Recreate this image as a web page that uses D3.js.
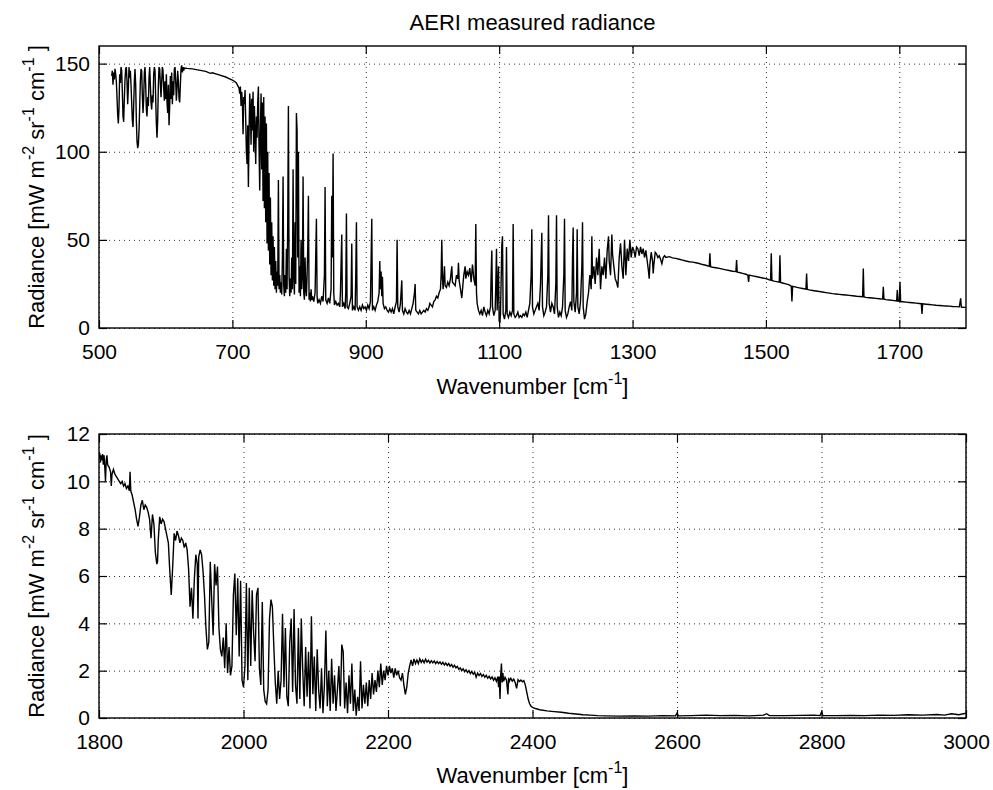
<!DOCTYPE html>
<html>
<head>
<meta charset="utf-8">
<script src="https://cdn.jsdelivr.net/npm/d3@7"></script>
<style>
  body { margin: 0; background: #fff; }
  text { font-family: "Liberation Sans", Arial, Helvetica, sans-serif; fill: #000; }
</style>
</head>
<body>
<div id="chart"></div>
<script>
// AERI spectrum, values: [wavenumber cm-1, radiance]
var upperSpectrum = [
  [519,143],[520,146],[521,138],[522,145],[523,141],[524,147],[525,144],[526,140],[527,131],[528,121],[529,116],[530,125],[531,144],[532,139],[533,148],[534,146],[535,134],[536,120],[537,117],[538,130],[539,141],[540,147],[541,148],[542,140],[543,127],[544,136],[545,148],[546,142],[547,146],[548,138],[549,128],[550,118],[551,114],[552,126],[553,140],[554,147],[555,138],[556,118],[557,106],[558,102],[559,104],[560,112],[561,125],[562,140],[563,147],[564,146],[565,132],[566,122],[567,130],[568,145],[569,148],[570,138],[571,124],[572,120],[573,131],[574,126],[575,142],[576,148],[577,138],[578,128],[579,124],[580,132],[581,128],[582,144],[583,148],[584,146],[585,130],[586,116],[587,108],[588,118],[589,138],[590,148],[591,147],[592,138],[593,131],[594,140],[595,148],[596,146],[597,136],[598,129],[599,140],[600,130],[601,144],[602,128],[603,122],[604,138],[605,115],[606,126],[607,143],[608,130],[609,145],[610,127],[611,140],[612,132],[613,147],[614,148],[615,140],[616,129],[617,136],[618,146],[619,140],[620,130],[621,128],[622,138],[623,147],[624,149],[625,145],[626,148],[627,146],[628,147.5],
  [632,147.3],[640,147],[650,146.3],[660,145.6],[667,144.5],[670,144.8],[680,143.6],[690,142.4],[695,141.5],[700,140.6],[703,140],[706,139],[708,137.5],[710,136],
  [711,133],[712,137],[713,126],[714,134],[715,128],[716,110],[717,131],[718,127],[719,135],[720,118],[721,100],[722,93],[723,115],[724,80],[725,110],[726,133],[727,125],[728,104],[729,130],[730,112],[731,134],[732,100],[733,126],[734,110],[735,93],[736,120],[737,108],[738,128],[739,137],[740,102],[741,78],[742,112],[743,133],[744,90],[745,128],[746,72],[747,131],[748,68],[749,120],[750,60],[751,116],[752,48],[753,100],[754,44],[755,88],[756,36],[757,74],[758,30],[759,60],[760,27],[761,52],[762,24],[763,46],[764,22],[765,38],[766,20],[767,32],[768,24],[769,84],[770,22],[771,30],[772,20],[773,26],[774,19],[775,40],[776,86],[777,24],[778,18],[779,30],[780,20],[781,45],[782,22],[783,60],[784,126],[785,30],[786,18],[787,28],[788,20],[789,40],[790,22],[791,90],[792,30],[793,19],[794,60],[795,25],[796,122],[797,112],[798,40],[799,100],[800,20],[801,35],[802,18],[803,50],[804,22],[805,30],[806,86],[807,20],[808,16],[809,40],[810,22],[811,18],[812,30],[813,45],[814,75],[815,16],[816,20],[817,15],[818,22],[819,16],[820,18],[822,15],[824,20],[826,62],[827,18],[828,14],[830,16],[832,14],[834,18],[836,15],[838,30],[839,80],[840,16],[842,14],[844,17],[846,14],[848,22],[849,75],[850,40],[851,99],[852,20],[853,13],[855,15],[857,13],[859,14],[861,12],[862,20],[864,53],[865,12],[867,14],[869,11],[870,20],[871,65],[872,12],[874,11],[876,14],[878,18],[879,48],[880,10],[882,12],[884,10],[885,30],[886,60],[887,12],[889,10],[891,12],[893,10],[895,13],[897,11],[899,12],[901,10],[903,13],[905,11],[907,15],[909,62],[910,10],
  [912,12],[914,10],[916,13],[918,15],[920,20],[921,38],[922,22],[923,32],[924,18],[925,29],[926,14],[928,11],[930,12],[932,10],[934,9],[936,11],[938,9],[940,11],[942,8],[944,12],[946,15],[947,50],[948,12],[950,9],[952,14],[954,27],[955,10],[957,8],[959,11],[961,9],[963,8],[965,10],[967,8],[969,11],[971,14],[973,20],[974,25],[975,10],[977,9],[979,8],[981,10],[983,8],[985,9],[987,10],[989,9],[991,11],[993,10],[995,12],[996,14],[998,13],[1000,12],[1002,15],[1004,16],[1006,18],[1008,17],[1010,20],[1012,22],[1013,30],[1014,50],[1015,28],[1016,22],[1018,35],[1019,24],[1021,23],[1023,26],[1025,24],[1027,28],[1029,35],[1030,26],[1032,25],[1034,24],[1036,30],[1038,28],[1039,37],[1040,27],[1042,22],[1044,17],[1046,26],[1047,30],[1049,35],[1050,28],[1052,32],[1054,30],[1056,34],[1058,26],[1060,36],[1062,28],[1064,24],[1065,59],[1066,20],[1067,14],[1069,10],[1071,8],[1073,10],[1075,7],[1077,12],[1079,9],[1081,7],[1083,10],[1085,8],[1087,12],[1088,30],[1089,44],[1090,12],[1092,7],[1094,10],[1095,25],[1096,45],[1097,10],[1099,35],[1100,4],[1101,3],[1102,8],[1104,47],[1105,52],[1106,8],[1108,5],[1110,10],[1111,46],[1112,8],[1114,6],[1116,9],[1118,7],[1120,10],[1121,59],[1122,8],[1124,6],[1126,7],[1128,9],[1130,6],[1132,7],[1134,6],[1136,8],[1138,7],[1140,9],[1142,6],[1144,10],[1146,14],[1148,30],[1149,56],[1150,12],[1152,8],[1154,10],[1156,12],[1158,14],[1160,10],[1162,25],[1164,54],[1165,12],[1167,7],[1169,9],[1171,12],[1173,30],[1174,64],[1175,14],[1177,9],[1179,14],[1181,12],[1183,8],[1185,25],[1186,64],[1187,12],[1189,6],[1191,9],[1193,7],[1195,12],[1197,30],[1198,62],[1199,10],[1201,6],[1203,8],[1205,12],[1207,15],[1209,10],[1210,40],[1211,57],[1212,15],[1214,9],[1216,20],[1217,56],[1218,12],[1220,8],[1222,15],[1224,35],[1225,60],[1226,12],[1228,5],[1230,8],[1232,15],[1234,20],[1236,30],[1238,22],[1239,52],[1240,28],[1242,35],[1244,25],[1246,40],[1248,30],[1250,45],[1252,22],[1254,35],[1256,30],[1258,40],[1260,28],[1262,44],[1264,52],[1265,38],[1267,30],[1269,53],[1270,42],[1272,35],[1274,28],[1276,26],[1278,23],[1280,40],[1282,48],[1284,35],[1286,28],[1288,50],[1290,30],[1292,45],[1294,38],[1296,50],[1298,40],[1300,46],
  [1302,44],[1304,40],[1306,46],[1308,45],[1310,41],[1312,46],[1314,42],[1316,45],[1318,40],[1320,44],[1322,38],[1324,32],[1325,28],[1326,36],[1328,43],[1330,38],[1331,31],[1332,36],[1334,43],[1336,42],[1338,40],[1340,41],[1342,39],[1344,36.5],[1346,40],[1348,41],[1350,40],[1355,40.5],[1360,39.8],[1365,39.5],[1370,39],[1375,38.5],[1380,38],[1385,37.6],[1390,37.4],[1395,37],[1400,36.6],[1405,36],[1410,35.6],[1415,35],[1416,42.4],[1417,34.8],[1420,34.5],[1425,34.2],[1430,33.8],[1435,33.4],[1440,33],[1445,32.6],[1450,32.2],[1455,32],[1456,38.5],[1457,31.7],[1460,31.5],[1465,31],[1470,30.5],[1473,30],[1474,26.2],[1475,30],[1480,29.6],[1485,29.2],[1490,28.8],[1495,28.4],[1500,28],[1505,27.4],[1507,27.2],[1508,42.4],[1509,27],[1512,26.6],[1516,26.3],[1520,26],[1521,41.3],[1522,25.8],[1526,25.4],[1530,25],[1535,24.5],[1538,23.8],[1539,15],[1540,23.6],[1545,23.2],[1550,22.8],[1555,22.4],[1560,22],[1561,30.9],[1562,21.9],[1565,21.6],[1570,21.3],[1575,21],[1580,20.7],[1585,20.4],[1590,20.1],[1595,19.8],[1600,19.5],[1605,19.3],[1610,19.1],[1615,18.9],[1620,18.7],[1625,18.5],[1630,18.3],[1636,18],[1645,17.7],[1646,33.8],[1647,17.6],[1650,17.4],[1655,17.2],[1660,17],[1665,16.8],[1670,16.6],[1675,16.4],[1676,23.4],[1677,16.3],[1680,16.1],[1685,15.9],[1690,15.7],[1696,15.4],[1697,21.5],[1698,15.3],[1700,15.2],[1701,26.2],[1702,15],[1705,14.9],[1710,14.7],[1715,14.5],[1720,14.3],[1725,14.1],[1730,13.9],[1733,13.8],[1734,8],[1735,13.7],[1740,13.5],[1745,13.3],[1750,13.1],[1755,12.9],[1760,12.8],[1765,12.6],[1770,12.5],[1775,12.4],[1780,12.2],[1785,12.1],[1790,12],[1792,16.8],[1793,11.9],[1796,11.8],[1800,11.7]
];

var lowerSpectrum = [
  [1800,11.0],[1801,11.2],[1802,10.8],[1803,11.1],[1804,10.9],[1805,11.15],[1806,10.7],[1807,11.1],[1808,10.6],[1809,10.0],[1810,10.9],[1811,11.1],[1812,10.7],[1814,10.6],[1816,10.4],[1817,9.8],[1818,10.3],[1820,10.5],[1822,10.3],[1824,10.2],[1826,10.1],[1828,10.0],[1830,9.9],[1832,10.0],[1834,9.8],[1836,9.9],[1838,9.7],[1840,9.8],[1842,9.6],[1843,10.4],[1844,9.6],[1846,9.4],[1848,9.1],[1850,8.8],[1852,8.4],[1854,8.1],[1856,8.5],[1858,9.0],[1860,9.2],[1862,8.8],[1864,9.0],[1866,8.9],[1868,8.7],[1870,8.4],[1872,7.6],[1874,8.6],[1876,8.2],[1878,7.0],[1880,6.5],[1881,6.6],[1882,7.5],[1884,8.5],[1886,8.2],[1888,8.4],[1890,8.3],[1892,8.0],[1894,7.7],[1896,7.4],[1898,6.2],[1900,5.2],[1902,6.4],[1904,7.8],[1906,7.5],[1908,7.9],[1910,7.7],[1912,7.4],[1914,7.6],[1916,7.5],[1918,7.2],[1920,7.4],[1922,7.1],[1924,6.3],[1926,4.7],[1928,5.5],[1930,4.2],[1932,5.9],[1934,6.9],[1936,6.5],[1937,4.2],[1938,6.8],[1940,7.1],[1942,6.9],[1944,6.2],[1946,5.2],[1948,3.8],[1950,2.9],[1952,3.2],[1954,6.6],[1956,5.0],[1958,3.5],[1960,6.5],[1962,5.6],[1964,6.4],[1966,3.8],[1968,2.9],[1970,2.6],[1972,3.4],[1974,2.1],[1976,4.0],[1978,1.9],[1980,3.0],[1982,1.8],[1984,2.2],[1986,5.2],[1988,6.1],[1990,3.5],[1992,5.9],[1994,2.6],[1996,5.8],[1998,1.6],[2000,1.3],[2002,2.2],[2004,5.7],[2006,1.6],[2008,5.5],[2010,2.2],[2012,5.4],[2014,3.6],[2016,2.4],[2018,5.2],[2020,5.5],[2022,2.1],[2024,1.4],[2026,4.9],[2028,1.2],[2030,0.7],[2032,0.6],[2034,1.2],[2036,4.2],[2038,5.0],[2040,4.7],[2042,3.0],[2044,1.5],[2046,0.6],[2048,2.0],[2050,0.8],[2052,1.6],[2054,4.4],[2056,1.3],[2058,3.8],[2060,0.9],[2062,0.5],[2064,3.2],[2066,4.2],[2068,1.1],[2070,4.6],[2072,1.4],[2074,0.6],[2076,3.8],[2078,0.8],[2080,4.2],[2082,2.0],[2084,0.5],[2086,3.0],[2088,0.9],[2090,2.8],[2092,0.4],[2094,4.3],[2096,1.0],[2098,2.6],[2100,0.3],[2102,2.9],[2104,1.2],[2106,0.4],[2108,2.1],[2110,0.2],[2112,1.4],[2114,3.7],[2116,0.5],[2118,2.0],[2120,0.3],[2122,2.5],[2124,0.6],[2126,1.8],[2128,0.3],[2130,1.2],[2132,2.2],[2134,0.5],[2136,3.1],[2138,2.8],[2140,0.4],[2142,1.5],[2144,0.2],[2146,1.8],[2148,0.6],[2150,2.3],[2152,0.3],[2154,1.2],[2156,0.1],[2158,0.9],[2160,0.3],[2162,2.4],[2164,0.4],[2166,1.4],[2168,0.6],[2170,1.5],[2172,0.5],[2174,1.6],[2176,0.8],[2178,1.9],[2180,1.0],[2182,1.6],[2184,1.1],[2186,2.0],[2188,1.3],[2190,2.3],[2192,1.4],[2194,2.0],[2196,1.6],[2198,2.2],[2200,1.8],[2202,2.2],[2204,1.9],[2206,2.1],[2208,1.7],[2210,2.1],[2212,1.8],[2214,2.0],[2216,1.7],[2218,1.6],[2220,1.9],[2222,1.4],[2224,1.0],[2226,1.3],[2228,1.9],
  [2230,2.2],[2232,2.45],[2234,2.2],[2236,2.5],[2238,2.3],[2240,2.45],[2242,2.3],[2244,2.5],[2246,2.35],[2248,2.45],[2250,2.33],[2252,2.48],[2254,2.36],[2256,2.44],[2258,2.32],[2260,2.42],[2262,2.33],[2264,2.41],[2266,2.3],[2268,2.39],[2270,2.3],[2272,2.37],[2274,2.27],[2276,2.35],[2278,2.24],[2280,2.32],[2282,2.22],[2284,2.3],[2286,2.19],[2288,2.26],[2290,2.15],[2292,2.23],[2294,2.12],[2296,2.18],[2298,2.06],[2300,2.12],[2302,2.0],[2304,2.08],[2306,1.96],[2308,2.04],[2310,1.92],[2312,2.0],[2314,1.88],[2316,1.97],[2318,1.85],[2320,1.93],[2322,1.72],[2324,1.9],[2326,1.8],[2328,1.88],[2330,1.76],[2332,1.84],[2334,1.72],[2336,1.8],[2338,1.68],[2340,1.76],[2342,1.65],[2344,1.74],[2346,1.6],[2348,1.7],[2350,1.55],[2352,1.75],[2353,1.3],[2354,1.75],[2355,0.8],[2356,1.8],[2357,2.3],[2358,1.5],[2359,1.9],[2360,1.55],[2362,1.72],[2364,1.6],[2366,1.0],[2367,1.7],[2368,1.55],[2370,1.68],[2372,1.56],[2374,1.64],[2376,1.5],[2378,1.25],[2380,1.62],[2382,1.54],[2384,1.6],[2386,1.53],[2388,1.58],[2390,1.4],
  [2392,1.1],[2394,0.8],[2396,0.6],[2398,0.5],[2400,0.45],[2404,0.4],[2410,0.35],[2420,0.3],[2430,0.27],[2440,0.24],[2450,0.2],[2460,0.17],[2470,0.14],[2480,0.12],[2490,0.1],[2500,0.09],[2520,0.08],[2540,0.09],[2560,0.08],[2580,0.1],[2598,0.09],[2600,0.2],[2602,0.09],[2620,0.1],[2640,0.12],[2660,0.1],[2680,0.11],[2700,0.09],[2720,0.12],[2724,0.18],[2728,0.1],[2750,0.1],[2770,0.11],[2790,0.12],[2798,0.1],[2800,0.25],[2802,0.1],[2820,0.1],[2840,0.11],[2860,0.1],[2880,0.12],[2900,0.11],[2920,0.14],[2940,0.12],[2960,0.15],[2970,0.12],[2980,0.18],[2990,0.14],[3000,0.2]
];

var upperXTicks = [500, 700, 900, 1100, 1300, 1500, 1700];
var upperYTicks = [0, 50, 100, 150];
var lowerXTicks = [1800, 2000, 2200, 2400, 2600, 2800, 3000];
var lowerYTicks = [0, 2, 4, 6, 8, 10, 12];

var svgWidth = 993;
var svgHeight = 790;
var plotLeft = 99;
var plotRight = 966;
var fontSize = 22;
var tickFont = 21;
var supSize = 16;

var svg = d3.select("#chart")
    .append("svg")
    .attr("width", svgWidth)
    .attr("height", svgHeight);

// one MATLAB style panel
function drawPanel(opts) {
    var w = plotRight - plotLeft;
    var h = opts.bottom - opts.top;
    var x = d3.scaleLinear().domain(opts.xDomain).range([0, w]);
    var y = d3.scaleLinear().domain(opts.yDomain).range([h, 0]);

    var g = svg.append("g")
        .attr("transform", `translate(${plotLeft}, ${opts.top})`);

    // dotted grid
    g.append("g")
        .attr("transform", `translate(0, ${h})`)
        .call(d3.axisBottom(x).tickValues(opts.xTicks).tickSize(-h).tickFormat(""))
        .call(a => a.select(".domain").remove())
        .selectAll("line")
        .attr("class", "grid")
        .attr("stroke", "#333")
        .attr("stroke-dasharray", "1,4");
    g.append("g")
        .call(d3.axisLeft(y).tickValues(opts.yTicks).tickSize(-w).tickFormat(""))
        .call(a => a.select(".domain").remove())
        .selectAll("line")
        .attr("class", "grid")
        .attr("stroke", "#333")
        .attr("stroke-dasharray", "1,4");

    // the spectrum
    var clipId = "clip" + opts.top;
    g.append("clipPath").attr("id", clipId)
        .append("rect").attr("width", w).attr("height", h);
    g.append("path")
        .datum(opts.data)
        .attr("clip-path", `url(#${clipId})`)
        .attr("fill", "none")
        .attr("stroke", "#000")
        .attr("stroke-width", 1.4)
        .attr("d", d3.line().x(d => x(d[0])).y(d => y(d[1])));

    // axes with inward ticks
    var tick = 8;
    var fmt = d3.format("d");
    g.append("g")
        .attr("transform", `translate(0, ${h})`)
        .call(d3.axisBottom(x).tickValues(opts.xTicks).tickFormat(fmt).tickSizeInner(-tick).tickSizeOuter(0).tickPadding(16));
    g.append("g")
        .call(d3.axisLeft(y).tickValues(opts.yTicks).tickFormat(fmt).tickSizeInner(-tick).tickSizeOuter(0).tickPadding(9));
    g.append("g")
        .call(d3.axisTop(x).tickValues(opts.xTicks).tickSizeInner(-tick).tickSizeOuter(0).tickFormat(""));
    g.append("g")
        .attr("transform", `translate(${w}, 0)`)
        .call(d3.axisRight(y).tickValues(opts.yTicks).tickSizeInner(-tick).tickSizeOuter(0).tickFormat(""));
    g.selectAll(".domain").remove();
    g.selectAll(".tick line:not(.grid)")
        .attr("stroke", "#000")
        .attr("stroke-width", 1.2);
    g.selectAll(".tick text")
        .style("font-size", tickFont + "px")
        .style("font-family", "\"Liberation Sans\", Arial, sans-serif")
        .attr("fill", "#000");

    // frame
    g.append("rect")
        .attr("width", w)
        .attr("height", h)
        .attr("fill", "none")
        .attr("stroke", "#000")
        .attr("stroke-width", 1.4);

    // x label
    var xl = svg.append("text")
        .attr("x", plotLeft + w / 2)
        .attr("y", opts.xLabelY)
        .style("text-anchor", "middle")
        .style("font-size", fontSize + "px");
    xl.append("tspan").text("Wavenumber [cm");
    xl.append("tspan").attr("dy", -10).style("font-size", supSize + "px").text("-1");
    xl.append("tspan").attr("dy", 10).text("]");

    // y label
    var yl = svg.append("text")
        .attr("transform", "rotate(-90)")
        .attr("x", -(opts.top + h / 2))
        .attr("y", 44)
        .style("text-anchor", "middle")
        .style("font-size", fontSize + "px");
    yl.append("tspan").text("Radiance [mW m");
    yl.append("tspan").attr("dy", -10).style("font-size", supSize + "px").text("-2");
    yl.append("tspan").attr("dy", 10).text(" sr");
    yl.append("tspan").attr("dy", -10).style("font-size", supSize + "px").text("-1");
    yl.append("tspan").attr("dy", 10).text(" cm");
    yl.append("tspan").attr("dy", -10).style("font-size", supSize + "px").text("-1");
    yl.append("tspan").attr("dy", 10).text(" ]");
}

svg.append("text")
    .attr("x", (plotLeft + plotRight) / 2)
    .attr("y", 30)
    .style("text-anchor", "middle")
    .style("font-size", fontSize + "px")
    .text("AERI measured radiance");

drawPanel({
    top: 46, bottom: 328,
    xDomain: [500, 1800], yDomain: [0, 160],
    xTicks: upperXTicks, yTicks: upperYTicks,
    data: upperSpectrum, xLabelY: 394
});
drawPanel({
    top: 434, bottom: 718,
    xDomain: [1800, 3000], yDomain: [0, 12],
    xTicks: lowerXTicks, yTicks: lowerYTicks,
    data: lowerSpectrum, xLabelY: 783
});
</script>
</body>
</html>
